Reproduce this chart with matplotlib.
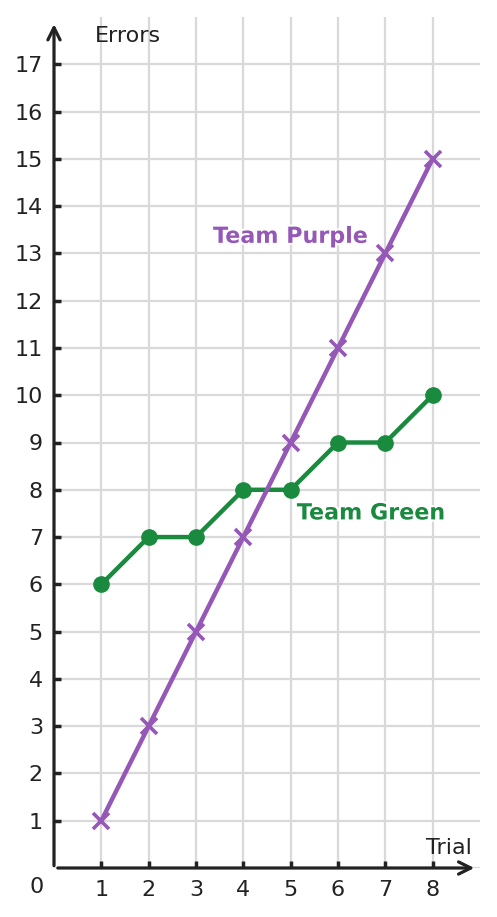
import matplotlib.pyplot as plt
import matplotlib.patheffects as pe

# data
trials = [1, 2, 3, 4, 5, 6, 7, 8]
purple_errors = [1, 3, 5, 7, 9, 11, 13, 15]
green_errors = [6, 7, 7, 8, 8, 9, 9, 10]
y_ticks = list(range(1, 18))

purple = '#9558b7'
green = '#1a8a3f'
ink = '#222222'
W, H = 497, 917

fig = plt.figure(figsize=(W / 100, H / 100), dpi=100)
ax = fig.add_axes([54 / W, (H - 868) / H, (480 - 54) / W, (868 - 17) / H])
ax.set_xlim(0, 9)
ax.set_ylim(0, 18)

for s in ax.spines.values():
    s.set_visible(False)

ax.set_xticks(trials)
ax.set_yticks(y_ticks)
ax.tick_params(direction='in', length=5, width=2.5, color=ink,
               labelsize=16, labelcolor=ink)
ax.tick_params(axis='x', pad=9)
ax.tick_params(axis='y', pad=8)
ax.grid(True, color='#d9d9d9', linewidth=1.6, zorder=0)
ax.axhline(0, color='#d9d9d9', linewidth=1.6, zorder=0)

# axes drawn as arrows
ax.annotate('', xy=(8.88, 0), xytext=(0.08, 0),
            arrowprops=dict(arrowstyle='->', color=ink, lw=2.3,
                            mutation_scale=22, shrinkA=0, shrinkB=0),
            annotation_clip=False, zorder=5)
ax.annotate('', xy=(0, 17.85), xytext=(0, 0.05),
            arrowprops=dict(arrowstyle='->', color=ink, lw=2.3,
                            mutation_scale=22, shrinkA=0, shrinkB=0),
            annotation_clip=False, zorder=5)

ax.plot(trials, green_errors, color=green, linewidth=3.2, marker='o',
        markersize=11, zorder=3, clip_on=False)
ax.plot(trials, purple_errors, color=purple, linewidth=3.2, marker='x',
        markersize=11, markeredgewidth=2.6, zorder=4, clip_on=False)

ax.text(-0.36, -0.4, '0', fontsize=16, color=ink, ha='center', va='center')
ax.text(0.87, 17.6, 'Errors', fontsize=16, color=ink, ha='left', va='center')
ax.text(8.82, 0.42, 'Trial', fontsize=16, color=ink, ha='right', va='center')

halo = [pe.withStroke(linewidth=3, foreground='white')]
ax.text(3.36, 13.35, 'Team Purple', fontsize=16, fontweight='bold',
        color=purple, ha='left', va='center', path_effects=halo, zorder=6)
ax.text(5.13, 7.5, 'Team Green', fontsize=16, fontweight='bold',
        color=green, ha='left', va='center', path_effects=halo, zorder=6)

fig.savefig('out.png', dpi=100)
